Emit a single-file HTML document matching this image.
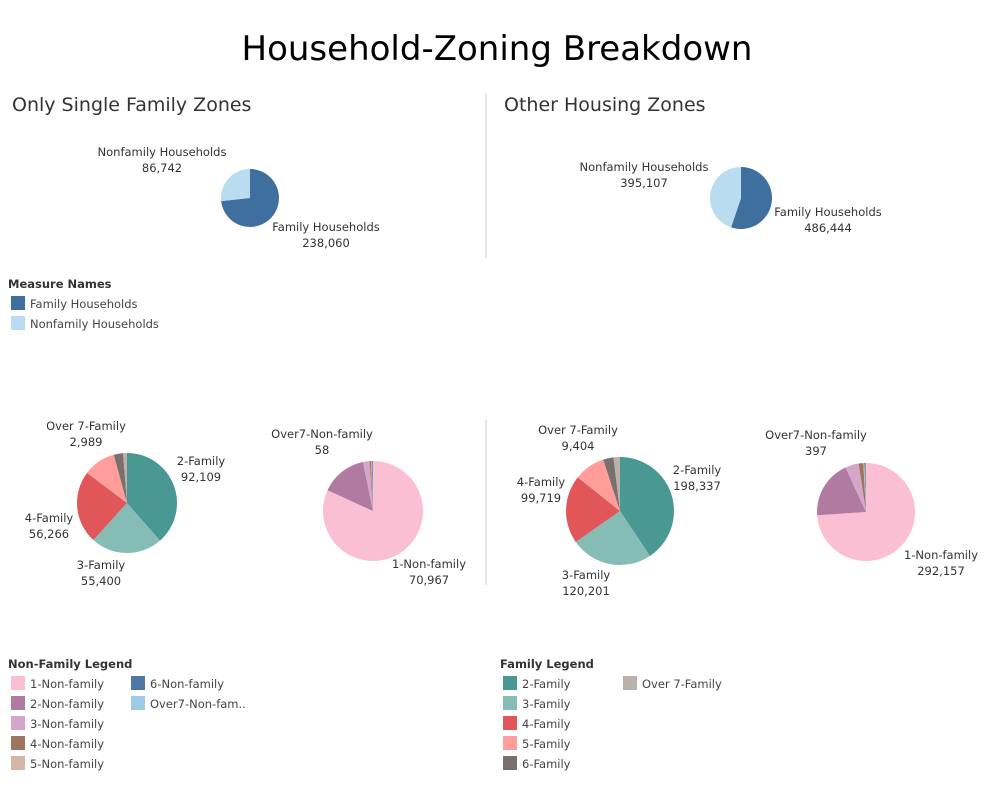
<!DOCTYPE html>
<html><head><meta charset="utf-8">
<style>
body{margin:0;background:#fff;}
svg{display:block;font-family:"DejaVu Sans","Liberation Sans",sans-serif;}
</style></head>
<body>
<svg id="c" width="995" height="796" viewBox="0 0 995 796">
<text x="497" y="60" text-anchor="middle" font-size="34" fill="#000">Household-Zoning Breakdown</text>
<text x="12" y="111" font-size="19" fill="#333">Only Single Family Zones</text>
<text x="504" y="111" font-size="19" fill="#333">Other Housing Zones</text>
<line x1="486" y1="93" x2="486" y2="258" stroke="#ddd" stroke-width="1.5"/>
<line x1="486" y1="420" x2="486" y2="585" stroke="#ddd" stroke-width="1.5"/>
<g id="pies"></g>
<g id="legends"></g>
</svg>
<script>
const hhCats = ["Family Households","Nonfamily Households"];
const hhSingle = [238060, 86742];
const hhOther = [486444, 395107];
const famCats = ["2-Family","3-Family","4-Family","5-Family","6-Family","Over 7-Family"];
const famSingle = [92109, 55400, 56266, 25000, 7200, 2989];
const famOther = [198337, 120201, 99719, 45100, 15200, 9404];
const nonCats = ["1-Non-family","2-Non-family","3-Non-family","4-Non-family","5-Non-family","6-Non-family","Over7-Non-family"];
const nonSingle = [70967, 12960, 1850, 400, 200, 300, 58];
const nonOther = [292157, 75900, 17600, 6000, 1500, 1550, 397];

const hhColors = ["#3f6f9f","#b9dcf0"];
const famColors = ["#499894","#86bcb6","#e15759","#ff9d9a","#79706e","#bab0ac"];
const nonColors = ["#fabfd2","#b07aa1","#d4a6c8","#9d7660","#d7b5a6","#4e79a7","#a0cbe8"];

const NS = "http://www.w3.org/2000/svg";
const pies = document.getElementById('pies');
const fmt = v => v.toLocaleString('en-US');

function pie(name, vals, cats, colors, cx, cy, r, labels){
  const g = document.createElementNS(NS,'g');
  
  
  const tot = vals.reduce((a,b)=>a+b,0);
  let a0 = 0;
  vals.forEach((v,i)=>{
    const a1 = a0 + v/tot*2*Math.PI;
    const x0 = cx + r*Math.sin(a0), y0 = cy - r*Math.cos(a0);
    const x1 = cx + r*Math.sin(a1), y1 = cy - r*Math.cos(a1);
    const p = document.createElementNS(NS,'path');
    p.setAttribute('d', `M${cx},${cy}L${x0},${y0}A${r},${r} 0 ${a1-a0>Math.PI?1:0} 1 ${x1},${y1}Z`);
    p.setAttribute('fill', colors[i]);
    
    
    g.appendChild(p);
    a0 = a1;
  });
  labels.forEach(l=>{
    [cats[l.i], fmt(vals[l.i])].forEach((s,k)=>{
      const t = document.createElementNS(NS,'text');
      t.setAttribute('x', l.x); t.setAttribute('y', l.y + k*16);
      t.setAttribute('text-anchor','middle'); t.setAttribute('font-size','11.5'); t.setAttribute('fill','#333');
      t.textContent = s;
      
      
      g.appendChild(t);
    });
  });
  pies.appendChild(g);
}
pie('single-household-pie', hhSingle, hhCats, hhColors, 250, 198, 29, [{i:1,x:162,y:156},{i:0,x:326,y:231}]);
pie('other-household-pie', hhOther, hhCats, hhColors, 741, 198, 31, [{i:1,x:644,y:171},{i:0,x:828,y:216}]);
pie('single-family-pie', famSingle, famCats, famColors, 127, 503, 50, [{i:5,x:86,y:430},{i:0,x:201,y:465},{i:2,x:49,y:522},{i:1,x:101,y:569}]);
pie('single-nonfamily-pie', nonSingle, nonCats, nonColors, 373, 511, 50, [{i:6,x:322,y:438},{i:0,x:429,y:568}]);
pie('other-family-pie', famOther, famCats, famColors, 620, 511, 54, [{i:5,x:578,y:434},{i:0,x:697,y:474},{i:2,x:541,y:486},{i:1,x:586,y:579}]);
pie('other-nonfamily-pie', nonOther, nonCats, nonColors, 866, 512, 49, [{i:6,x:816,y:439},{i:0,x:941,y:559}]);

const lg = document.getElementById('legends');
function legend(name, title, x, y, cats, colors, perCol, colW){
  const g = document.createElementNS(NS,'g');
  
  
  const t = document.createElementNS(NS,'text');
  t.setAttribute('x', x); t.setAttribute('y', y); t.setAttribute('font-size','11.5'); t.setAttribute('font-weight','bold'); t.setAttribute('fill','#333');
  t.textContent = title;
  
  
  g.appendChild(t);
  cats.forEach((c,i)=>{
    const col = Math.floor(i/perCol), row = i%perCol;
    const bx = x + 3 + col*colW, by = y + 8 + row*20;
    const e = document.createElementNS(NS,'g');
    
    
    const r = document.createElementNS(NS,'rect');
    r.setAttribute('x', bx); r.setAttribute('y', by); r.setAttribute('width', 14); r.setAttribute('height', 14); r.setAttribute('fill', colors[i]);
    e.appendChild(r);
    const tx = document.createElementNS(NS,'text');
    tx.setAttribute('x', bx + 19); tx.setAttribute('y', by + 12); tx.setAttribute('font-size','11.5'); tx.setAttribute('fill','#444');
    tx.textContent = c;
    e.appendChild(tx);
    g.appendChild(e);
  });
  lg.appendChild(g);
}
legend('measure-names-legend', 'Measure Names', 8, 288, hhCats, hhColors, 5, 120);
legend('non-family-legend', 'Non-Family Legend', 8, 668, ["1-Non-family","2-Non-family","3-Non-family","4-Non-family","5-Non-family","6-Non-family","Over7-Non-fam.."], nonColors, 5, 120);
legend('family-legend', 'Family Legend', 500, 668, famCats, famColors, 5, 120);
</script>
</body></html>
